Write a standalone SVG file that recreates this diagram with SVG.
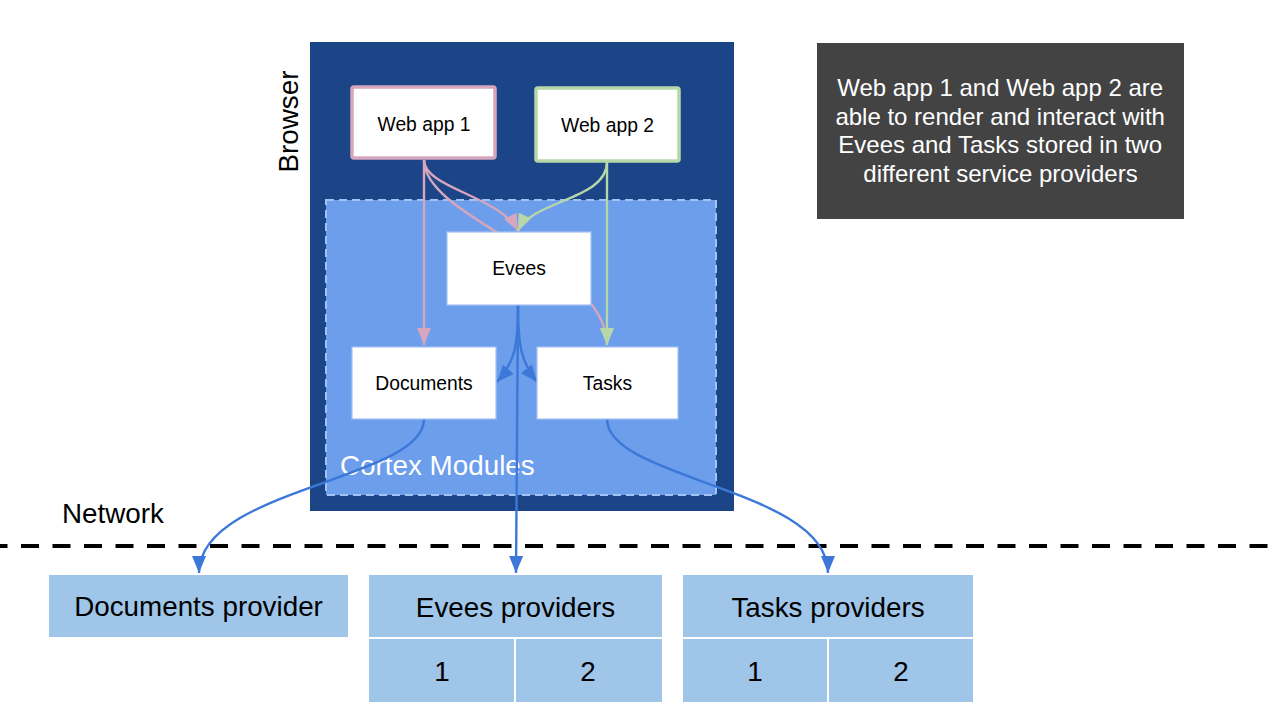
<svg xmlns="http://www.w3.org/2000/svg" width="1281" height="728" viewBox="0 0 1281 728">
<style>
.t{font-family:"Liberation Sans",Arial,sans-serif;fill:#000}
.big{font-size:27.8px}
.nd{font-size:19.3px}
.node{fill:#fff;stroke:#a4c2f4;stroke-width:1.2}
.prov{fill:#9fc5e8}
.c{fill:none;stroke-width:2.4}
.pk{stroke:#d5a6bd}
.gr{stroke:#b6d7a8}
.bl{stroke:#3c78d8}
</style>
<defs>
<marker id="ap" markerUnits="userSpaceOnUse" markerWidth="18" markerHeight="14" refX="17" refY="7" orient="auto"><path d="M0,0 L17,7 L0,14 z" fill="#d5a6bd"/></marker>
<marker id="ag" markerUnits="userSpaceOnUse" markerWidth="18" markerHeight="14" refX="17" refY="7" orient="auto"><path d="M0,0 L17,7 L0,14 z" fill="#b6d7a8"/></marker>
<marker id="ab" markerUnits="userSpaceOnUse" markerWidth="18" markerHeight="14" refX="17" refY="7" orient="auto"><path d="M0,0 L17,7 L0,14 z" fill="#3c78d8"/></marker>
</defs>
<rect width="1281" height="728" fill="#fff"/>
<g id="browser">
<rect x="310" y="42" width="424" height="469" fill="#1c4587"/>
<text class="t big" transform="translate(298,121.5) rotate(-90)" text-anchor="middle">Browser</text>
</g>
<g id="cortex">
<rect x="326" y="200" width="390" height="295" fill="#6d9eeb" stroke="#a4c2f4" stroke-width="2" stroke-dasharray="8 5"/>
<text class="t big" x="340" y="475" style="fill:#fff">Cortex Modules</text>
</g>
<g id="network">
<line x1="0" y1="546" x2="1281" y2="546" stroke="#000" stroke-width="4" stroke-dasharray="18 13.5" stroke-dashoffset="10.5"/>
<text class="t big" x="62" y="523">Network</text>
</g>
<g id="note">
<rect x="817" y="43" width="367" height="176" fill="#434343"/>
<text font-family="Liberation Sans, Arial, sans-serif" font-size="24" fill="#fff" text-anchor="middle">
<tspan x="1003.5" y="96">Web app 1 and Web app 2 are</tspan>
<tspan x="1003.5" y="124.5">able to render and interact with</tspan>
<tspan x="1003.5" y="153">Evees and Tasks stored in two</tspan>
<tspan x="1000.5" y="181.5">different service providers</tspan>
</text>
</g>
<g id="documents-provider">
<rect class="prov" x="49" y="575" width="299" height="62"/>
<text class="t big" x="198.5" y="616" text-anchor="middle">Documents provider</text>
</g>
<g id="evees-providers">
<rect class="prov" x="369" y="575" width="293" height="62"/>
<rect class="prov" x="369" y="639" width="145" height="63"/>
<rect class="prov" x="516" y="639" width="146" height="63"/>
<text class="t big" x="515.5" y="617" text-anchor="middle">Evees providers</text>
<text class="t big" x="442" y="681" text-anchor="middle">1</text>
<text class="t big" x="588" y="681" text-anchor="middle">2</text>
</g>
<g id="tasks-providers">
<rect class="prov" x="683" y="575" width="290" height="62"/>
<rect class="prov" x="683" y="639" width="144" height="63"/>
<rect class="prov" x="829" y="639" width="144" height="63"/>
<text class="t big" x="828" y="617" text-anchor="middle">Tasks providers</text>
<text class="t big" x="755" y="681" text-anchor="middle">1</text>
<text class="t big" x="901" y="681" text-anchor="middle">2</text>
</g>
<g id="connectors">
<path class="c pk" d="M424,160 C424,220 607,262 607,345" marker-end="url(#ap)"/>
<path class="c pk" d="M424,160 L424,345" marker-end="url(#ap)"/>
<path class="c pk" d="M424,160 C424,188 500,196 518,231" marker-end="url(#ap)"/>
<path class="c gr" d="M607,162 C607,200 532,200 518,231" marker-end="url(#ag)"/>
<path class="c gr" d="M607,162 L607,345" marker-end="url(#ag)"/>
<path class="c bl" d="M518,305 C518,345 515,362 497,382" marker-end="url(#ab)"/>
<path class="c bl" d="M518,305 C518,345 521,362 537,382" marker-end="url(#ab)"/>
<path class="c bl" d="M518,305 L516,573" marker-end="url(#ab)"/>
<path class="c bl" d="M424,419 C424,480 199,488 199,573" marker-end="url(#ab)"/>
<path class="c bl" d="M607,419 C607,480 828,488 828,573" marker-end="url(#ab)"/>
</g>
<g id="web-app-1">
<rect x="352" y="87" width="143" height="71" rx="2" fill="#fff" stroke="#d5a6bd" stroke-width="3.5"/>
<text class="t nd" x="424" y="131" text-anchor="middle">Web app 1</text>
</g>
<g id="web-app-2">
<rect x="536" y="88" width="143" height="73" rx="2" fill="#fff" stroke="#b6d7a8" stroke-width="3.5"/>
<text class="t nd" x="607.5" y="132" text-anchor="middle">Web app 2</text>
</g>
<g id="evees">
<rect class="node" x="447" y="232" width="144" height="73"/>
<text class="t nd" x="519" y="275" text-anchor="middle">Evees</text>
</g>
<g id="documents">
<rect class="node" x="352" y="347" width="144" height="72"/>
<text class="t nd" x="424" y="390" text-anchor="middle">Documents</text>
</g>
<g id="tasks">
<rect class="node" x="537" y="347" width="141" height="72"/>
<text class="t nd" x="607.5" y="390" text-anchor="middle">Tasks</text>
</g>
</svg>
